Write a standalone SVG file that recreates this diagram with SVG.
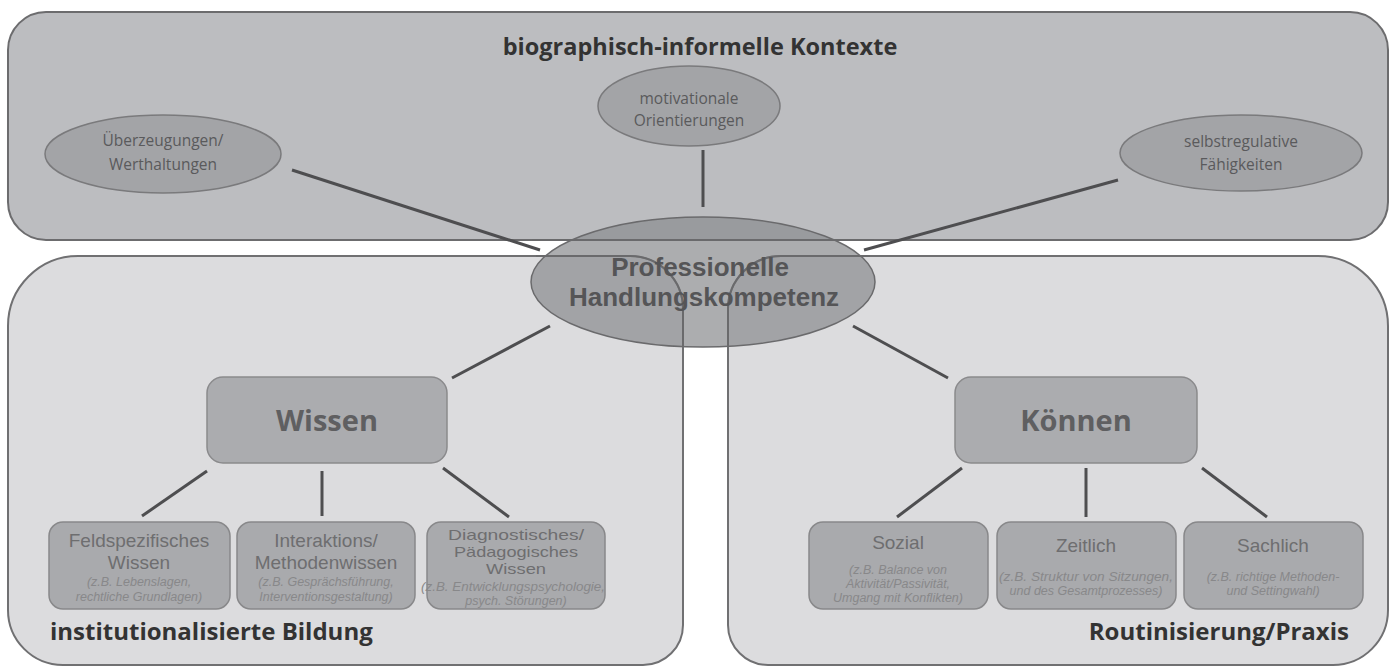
<svg xmlns="http://www.w3.org/2000/svg" width="1395" height="668" viewBox="0 0 1395 668">
<style>
.panelTop{fill:#bcbdc0;stroke:#6c6c6e;stroke-width:2}
.panelBot{fill:#dcdcde;stroke:#707072;stroke-width:2}
.outline{fill:none;stroke:#6a6a6c;stroke-width:2}
.oval{fill:#a3a4a7;stroke:#7a7a7c;stroke-width:1.5}
.box{fill:#abacaf;stroke:#8a8a8c;stroke-width:1.5}
.sub{fill:#a9aaad;stroke:#88888a;stroke-width:1.5}
.conn line{stroke:#4e4e50;stroke-width:3}
text{font-family:"Open Sans","Noto Sans",sans-serif;text-anchor:middle}
.title{font-weight:bold;font-size:23.5px;fill:#333}
.ovt{font-size:15.5px;fill:#5a5a5c}
.ct{font-family:"Liberation Sans",Arial,sans-serif;font-weight:bold;font-size:26px;fill:#555557}
.bt{font-weight:bold;font-size:29px;fill:#5f5f61}
.st{font-family:"Liberation Sans",Arial,sans-serif;font-size:19px;fill:#6e6e70}
.st2{font-family:"Liberation Sans",Arial,sans-serif;font-size:15px;fill:#6e6e70}
.it{font-family:"Liberation Sans",Arial,sans-serif;font-style:italic;font-size:12.5px;fill:#88888a}
.lbl{font-weight:bold;font-size:24px;fill:#333}
</style>
<rect width="1395" height="668" fill="#ffffff"/>
<g id="panel-top"><rect class="panelTop" x="8" y="12" width="1380" height="228" rx="38"/>
<text class="title" x="700" y="55">biographisch-informelle Kontexte</text></g>
<g id="panel-left"><path class="panelBot" d="M8 610 V326 A70 70 0 0 1 78 256 H630 A53 53 0 0 1 683 309 V625 A40 40 0 0 1 643 665 H63 A55 55 0 0 1 8 610 Z"/>
<text class="lbl" x="50" y="640" style="text-anchor:start">institutionalisierte Bildung</text></g>
<g id="panel-right"><path class="panelBot" d="M768 665 A40 40 0 0 1 728 625 V309 A53 53 0 0 1 781 256 H1318 A70 70 0 0 1 1388 326 V610 A55 55 0 0 1 1333 665 Z"/>
<text class="lbl" x="1349" y="640" style="text-anchor:end">Routinisierung/Praxis</text></g>
<g class="conn" id="connectors">
<line x1="292" y1="170" x2="540" y2="250"/>
<line x1="703" y1="150" x2="703" y2="207"/>
<line x1="1118" y1="180" x2="864" y2="250"/>
<line x1="550" y1="326" x2="452" y2="378"/>
<line x1="853" y1="326" x2="948" y2="378"/>
<line x1="207" y1="471" x2="142" y2="516"/>
<line x1="322" y1="471" x2="322" y2="516"/>
<line x1="443" y1="468" x2="509" y2="517"/>
<line x1="962" y1="468" x2="897" y2="517"/>
<line x1="1086" y1="468" x2="1086" y2="517"/>
<line x1="1202" y1="468" x2="1267" y2="517"/>
</g>
<g id="ueberzeugungen"><ellipse class="oval" cx="163" cy="154" rx="118" ry="39"/>
<text class="ovt" x="163" y="146">Überzeugungen/</text><text class="ovt" x="163" y="170">Werthaltungen</text></g>
<g id="motivationale"><ellipse class="oval" cx="689" cy="106" rx="91" ry="40"/>
<text class="ovt" x="689" y="104">motivationale</text><text class="ovt" x="689" y="126">Orientierungen</text></g>
<g id="selbstregulative"><ellipse class="oval" cx="1241" cy="153" rx="121" ry="38"/>
<text class="ovt" x="1241" y="147">selbstregulative</text><text class="ovt" x="1241" y="170">Fähigkeiten</text></g>
<g id="kompetenz"><ellipse cx="703" cy="282" rx="172" ry="65" fill="#8c8d90" fill-opacity="0.72" stroke="#6a6a6c" stroke-width="1.5"/>
<path class="outline" d="M532 240 H874 M630 256 A53 53 0 0 1 683 309 V347 M728 347 V309 A53 53 0 0 1 781 256 M536 256 H630 M781 256 H870"/>
<text class="ct" x="700" y="276">Professionelle</text><text class="ct" x="704" y="306">Handlungskompetenz</text></g>
<g id="wissen"><rect class="box" x="207" y="377" width="240" height="86" rx="16"/>
<text class="bt" x="327" y="431">Wissen</text></g>
<g id="koennen"><rect class="box" x="955" y="377" width="242" height="86" rx="16"/>
<text class="bt" x="1076" y="431">Können</text></g>
<g id="feldspezifisch"><rect class="sub" x="49" y="522" width="181" height="87" rx="14"/>
<text class="st" x="139" y="547">Feldspezifisches</text><text class="st" x="139" y="569">Wissen</text>
<text class="it" x="139" y="586">(z.B. Lebenslagen,</text><text class="it" x="139" y="601">rechtliche Grundlagen)</text></g>
<g id="interaktion"><rect class="sub" x="237" y="522" width="178" height="87" rx="14"/>
<text class="st" x="326" y="547">Interaktions/</text><text class="st" x="326" y="569">Methodenwissen</text>
<text class="it" x="326" y="586">(z.B. Gesprächsführung,</text><text class="it" x="326" y="601">Interventionsgestaltung)</text></g>
<g id="diagnostisch"><rect class="sub" x="427" y="522" width="178" height="87" rx="14"/>
<text class="st2" x="516" y="540" textLength="136" lengthAdjust="spacingAndGlyphs">Diagnostisches/</text><text class="st2" x="516" y="557" textLength="124" lengthAdjust="spacingAndGlyphs">Pädagogisches</text><text class="st2" x="516" y="574" textLength="60" lengthAdjust="spacingAndGlyphs">Wissen</text>
<text class="it" x="513" y="591" textLength="184" lengthAdjust="spacingAndGlyphs">(z.B. Entwicklungspsychologie,</text><text class="it" x="516" y="605">psych. Störungen)</text></g>
<g id="sozial"><rect class="sub" x="809" y="522" width="179" height="87" rx="14"/>
<text class="st" x="898" y="549">Sozial</text>
<text class="it" x="898" y="574">(z.B. Balance von</text><text class="it" x="898" y="588">Aktivität/Passivität,</text><text class="it" x="898" y="602">Umgang mit Konflikten)</text></g>
<g id="zeitlich"><rect class="sub" x="997" y="522" width="179" height="87" rx="14"/>
<text class="st" x="1086" y="552">Zeitlich</text>
<text class="it" x="1086" y="581" textLength="174" lengthAdjust="spacingAndGlyphs">(z.B. Struktur von Sitzungen,</text><text class="it" x="1086" y="595">und des Gesamtprozesses)</text></g>
<g id="sachlich"><rect class="sub" x="1184" y="522" width="179" height="87" rx="14"/>
<text class="st" x="1273" y="552">Sachlich</text>
<text class="it" x="1273" y="581">(z.B. richtige Methoden-</text><text class="it" x="1273" y="595">und Settingwahl)</text></g>
</svg>
